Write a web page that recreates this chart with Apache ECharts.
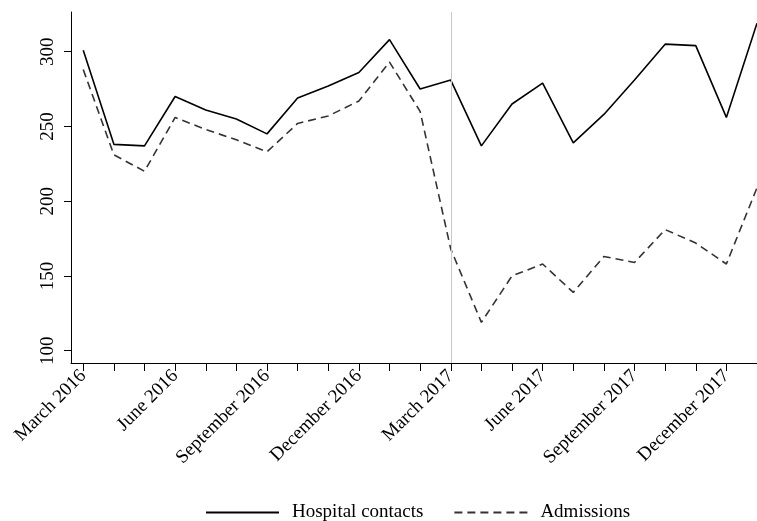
<!DOCTYPE html>
<html>
<head>
<meta charset="utf-8">
<script src="https://cdn.jsdelivr.net/npm/echarts@6/dist/echarts.min.js"></script>
<style>
  html, body { margin: 0; padding: 0; background: #fff; }
  #chart { width: 757px; height: 521px; }
</style>
</head>
<body>
<div id="chart"></div>
<script>
// months from March 2016 to January 2018
const months = [
  'March 2016', 'April 2016', 'May 2016', 'June 2016', 'July 2016', 'August 2016',
  'September 2016', 'October 2016', 'November 2016', 'December 2016', 'January 2017', 'February 2017',
  'March 2017', 'April 2017', 'May 2017', 'June 2017', 'July 2017', 'August 2017',
  'September 2017', 'October 2017', 'November 2017', 'December 2017', 'January 2018'
]
const hospitalContacts = [301, 238, 237, 270, 261, 255, 245, 269, 277, 286, 308, 275,
  281, 237, 265, 279, 239, 258, 281, 305, 304, 256, 319]
const admissions = [288, 231, 220, 256, 248, 241, 233, 252, 257, 267, 293, 260,
  168, 119, 150, 158, 139, 163, 159, 181, 172, 158, 209]
const yTicks = [100, 150, 200, 250, 300]
const xLabelIdx = [0, 3, 6, 9, 12, 15, 18, 21]
const cutoffIdx = 12

const font = 'Liberation Serif'

let chart = echarts.init(document.getElementById('chart'))
chart.setOption({
  animation: false,
  grid: {
    left: 71,
    right: 0,
    top: 12,
    bottom: 158
  },
  legend: {
    top: 503,
    left: 205,
    padding: 0,
    itemWidth: 73,
    itemHeight: 14,
    itemGap: 30,
    itemStyle: { opacity: 0 },
    textStyle: {
      fontFamily: font,
      fontSize: 19,
      color: '#000',
      padding: [0, 0, 0, 8]
    },
    data: ['Hospital contacts', 'Admissions']
  },
  xAxis: {
    type: 'value',
    min: -0.4,
    max: 22,
    splitLine: { show: false },
    axisLine: { onZero: false, lineStyle: { color: '#000', width: 1 } },
    axisTick: {
      length: 8,
      customValues: months.map((m, i) => i),
      lineStyle: { color: '#000' }
    },
    axisLabel: {
      customValues: xLabelIdx,
      rotate: 45,
      margin: 10,
      fontFamily: font,
      fontSize: 19,
      color: '#000',
      formatter: v => months[Math.round(v)]
    }
  },
  yAxis: {
    type: 'value',
    min: 91.8,
    max: 326.5,
    splitLine: { show: false },
    axisLine: { show: true, onZero: false, lineStyle: { color: '#000', width: 1 } },
    axisTick: {
      show: true,
      length: 7,
      customValues: yTicks,
      lineStyle: { color: '#000' }
    },
    axisLabel: {
      customValues: yTicks,
      rotate: 90,
      margin: 13,
      fontFamily: font,
      fontSize: 19,
      color: '#000'
    }
  },
  series: [
    {
      name: 'Hospital contacts',
      type: 'line',
      symbol: 'none',
      data: hospitalContacts.map((v, i) => [i, v]),
      lineStyle: { color: '#000', width: 1.6 },
      itemStyle: { color: '#000' },
      markLine: {
        silent: true,
        symbol: 'none',
        label: { show: false },
        lineStyle: { color: '#c8c8c8', width: 1, type: 'solid' },
        data: [{ xAxis: cutoffIdx }]
      },
      z: 3
    },
    {
      name: 'Admissions',
      type: 'line',
      symbol: 'none',
      data: admissions.map((v, i) => [i, v]),
      lineStyle: { color: '#333', width: 1.6, type: [8, 5] },
      itemStyle: { color: '#333' },
      z: 2
    }
  ]
})
</script>
</body>
</html>
